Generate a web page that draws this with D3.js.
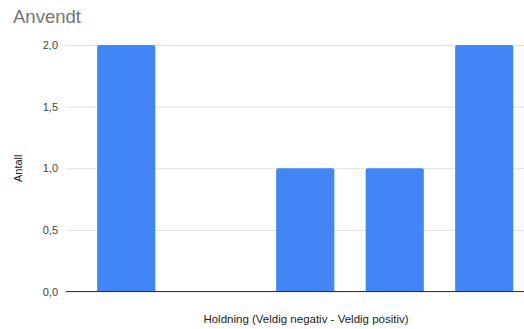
<!DOCTYPE html>
<html><head><meta charset="utf-8">
<script src="https://cdn.jsdelivr.net/npm/d3@7"></script>
<style>body{margin:0;background:#fff}svg{display:block}</style>
</head><body>
<svg id="c" width="524" height="329"></svg>
<script>
const categories = ["1", "2", "3", "4", "5"];
const values = [2, 0, 1, 1, 2];
const yTicks = [0, 0.5, 1, 1.5, 2];
const title = "Anvendt";
const xLabel = "Holdning (Veldig negativ - Veldig positiv)";
const yLabel = "Antall";

const svg = d3.select("#c");
const font = "Arial, 'Liberation Sans', sans-serif";
const x = d3.scaleBand().domain(categories).range([81.5, 529]).paddingInner(0.35).paddingOuter(0.175);
const y = d3.scaleLinear().domain([0, 2]).range([291.5, 45]);
const fmt = d => d3.format(".1f")(d).replace(".", ",");

svg.append("text").attr("x", 13).attr("y", 23).attr("font-family", font)
  .attr("font-size", 18.5).attr("fill", "#757575").text(title);

const ax = svg.append("g").attr("transform", "translate(66,0)")
  .call(d3.axisLeft(y).tickValues(yTicks).tickFormat(fmt).tickSize(-458).tickPadding(8));
ax.select(".domain").remove();
ax.selectAll(".tick line").attr("stroke", "#e0e0e0").attr("stroke-width", 1);
ax.selectAll(".tick text").attr("font-family", font).attr("font-size", 11).attr("fill", "#444");

svg.append("g").selectAll("path").data(values).join("path")
  .attr("fill", "#4285f4")
  .attr("d", (d, i) => {
    if (d <= 0) return "";
    const x0 = x(categories[i]), w = x.bandwidth(), y0 = y(d), y1 = y(0), r = 2;
    return `M${x0},${y1}V${y0 + r}Q${x0},${y0} ${x0 + r},${y0}H${x0 + w - r}Q${x0 + w},${y0} ${x0 + w},${y0 + r}V${y1}Z`;
  });

svg.append("line").attr("x1", 66).attr("x2", 524).attr("y1", y(0)).attr("y2", y(0))
  .attr("stroke", "#333").attr("stroke-width", 1);

svg.append("text").attr("x", 306).attr("y", 323).attr("text-anchor", "middle")
  .attr("font-family", font).attr("font-size", 11.5).attr("fill", "#222").text(xLabel);

svg.append("text").attr("transform", `translate(22,${y(1)}) rotate(-90)`).attr("text-anchor", "middle")
  .attr("font-family", font).attr("font-size", 11).attr("fill", "#222").text(yLabel);
</script>
</body></html>
